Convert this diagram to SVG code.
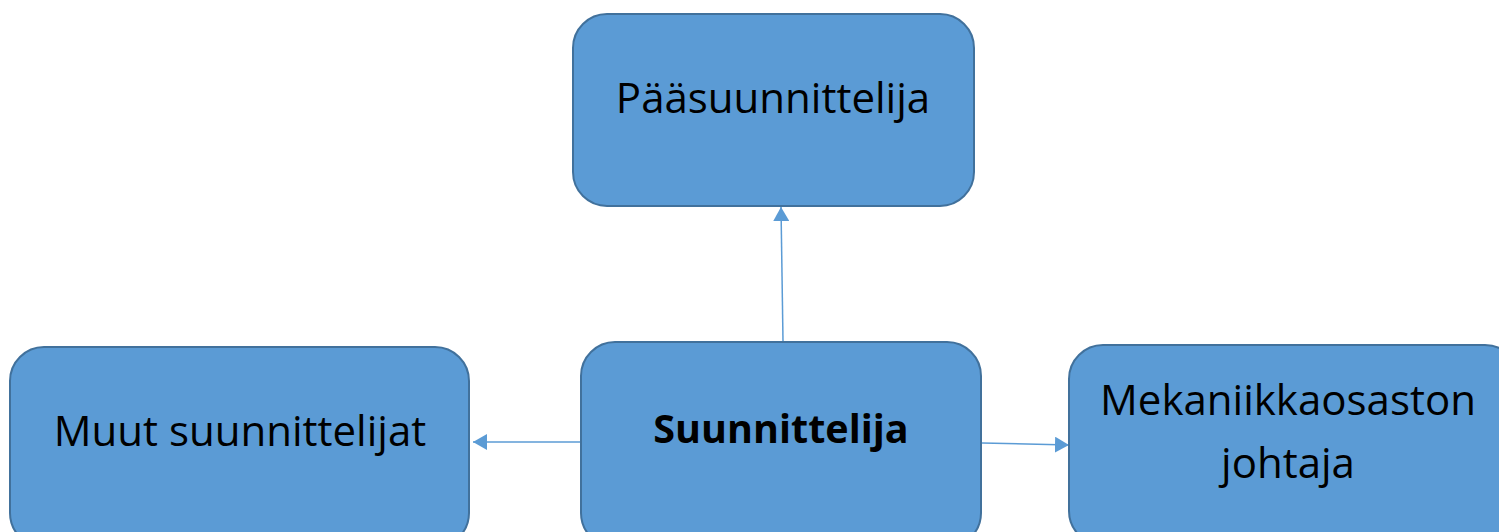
<svg xmlns="http://www.w3.org/2000/svg" width="1499" height="532" viewBox="0 0 1499 532">
<style>
.box{fill:#5B9BD5;stroke:#41719C;stroke-width:2}
.t{font-family:"Open Sans","Noto Sans",sans-serif;font-size:42px;fill:#000;text-anchor:middle}
.b{font-weight:bold;font-size:39.5px}
.c{stroke:#5B9BD5;stroke-width:1.5;fill:none}
</style>
<defs>
<marker id="ah" viewBox="0 0 14 16" refX="14" refY="8" markerWidth="14" markerHeight="16" markerUnits="userSpaceOnUse" orient="auto">
<path d="M0,0 L14,8 L0,16 Z" fill="#5B9BD5"/>
</marker>
</defs>
<g id="connectors">
<line class="c" x1="783" y1="341" x2="781" y2="207" marker-end="url(#ah)"/>
<line class="c" x1="581" y1="442" x2="473" y2="442" marker-end="url(#ah)"/>
<line class="c" x1="982" y1="443" x2="1069" y2="445" marker-end="url(#ah)"/>
</g>
<g id="paasuunnittelija">
<rect class="box" x="573" y="14" width="401" height="192" rx="34"/>
<text class="t" x="773" y="113">Pääsuunnittelija</text>
</g>
<g id="muut">
<rect class="box" x="10" y="347" width="459" height="200" rx="34"/>
<text class="t" x="240" y="446">Muut suunnittelijat</text>
</g>
<g id="suunnittelija">
<rect class="box" x="581" y="342" width="400" height="205" rx="34"/>
<text class="t b" x="781" y="443">Suunnittelija</text>
</g>
<g id="mekaniikka">
<rect class="box" x="1069" y="345" width="450" height="200" rx="34"/>
<text class="t" x="1288" y="415">Mekaniikkaosaston</text>
<text class="t" x="1288" y="478">johtaja</text>
</g>
</svg>
